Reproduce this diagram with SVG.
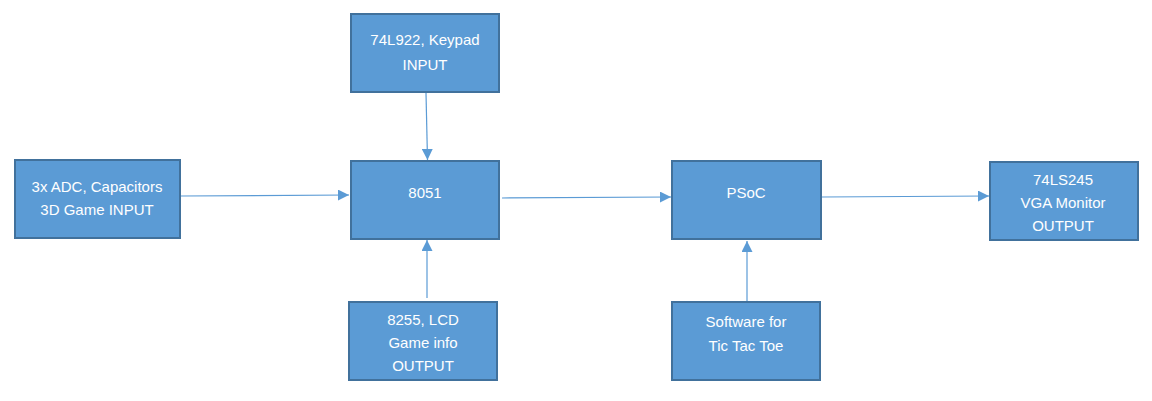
<svg xmlns="http://www.w3.org/2000/svg" width="1152" height="401" viewBox="0 0 1152 401">
<style>
.box{fill:#5B9BD5;stroke:#41719C;stroke-width:2}
.t{font-family:"Liberation Sans",Arial,sans-serif;font-size:15px;fill:#FFFFFF;text-anchor:middle}
.c{stroke:#5B9BD5;stroke-width:1.2;fill:none;marker-end:url(#ah)}
</style>
<defs>
<marker id="ah" markerUnits="userSpaceOnUse" markerWidth="11" markerHeight="11" viewBox="0 0 10 10" refX="10" refY="5" orient="auto">
<path d="M0,0 L10,5 L0,10 Z" fill="#5B9BD5"/>
</marker>
</defs>
<rect width="1152" height="401" fill="#FFFFFF"/>
<g id="connectors">
<line class="c" x1="426" y1="93" x2="427.5" y2="160"/>
<line class="c" x1="181" y1="196" x2="349" y2="195"/>
<line class="c" x1="502" y1="198" x2="671" y2="197"/>
<line class="c" x1="822" y1="197" x2="989" y2="196"/>
<line class="c" x1="427" y1="298" x2="427" y2="240"/>
<line class="c" x1="747" y1="302" x2="747" y2="241"/>
</g>
<g id="keypad">
<rect class="box" x="351" y="14" width="148" height="78"/>
<text class="t" x="425" y="45">74L922, Keypad</text>
<text class="t" x="425" y="70">INPUT</text>
</g>
<g id="adc">
<rect class="box" x="15" y="160" width="165" height="78"/>
<text class="t" x="97" y="192">3x ADC, Capacitors</text>
<text class="t" x="97" y="215">3D Game INPUT</text>
</g>
<g id="mcu8051">
<rect class="box" x="351" y="161" width="148" height="78"/>
<text class="t" x="425" y="198">8051</text>
</g>
<g id="psoc">
<rect class="box" x="672" y="161" width="149" height="78"/>
<text class="t" x="746" y="198">PSoC</text>
</g>
<g id="vga">
<rect class="box" x="990" y="162" width="148" height="78"/>
<text class="t" x="1063" y="185">74LS245</text>
<text class="t" x="1063" y="208">VGA Monitor</text>
<text class="t" x="1063" y="231">OUTPUT</text>
</g>
<g id="lcd">
<rect class="box" x="349" y="302" width="148" height="78"/>
<text class="t" x="423" y="325">8255, LCD</text>
<text class="t" x="423" y="348">Game info</text>
<text class="t" x="423" y="371">OUTPUT</text>
</g>
<g id="software">
<rect class="box" x="672" y="302" width="148" height="78"/>
<text class="t" x="746" y="327">Software for</text>
<text class="t" x="746" y="351">Tic Tac Toe</text>
</g>
</svg>
